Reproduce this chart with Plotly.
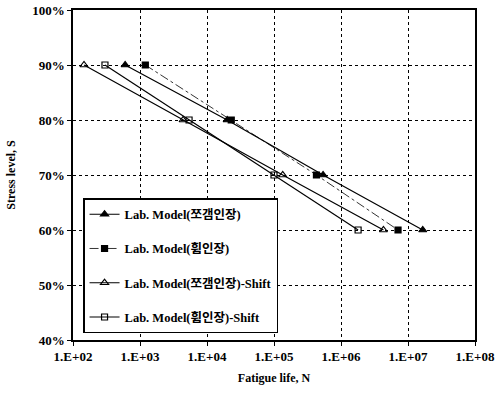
import plotly.graph_objects as go

stress = [0.90, 0.80, 0.70, 0.60]
life_split = [600, 20000, 540000, 16600000]
life_flex = [1200, 23000, 430000, 7100000]
life_split_shift = [146, 4400, 135000, 4300000]
life_flex_shift = [300, 5400, 100000, 1800000]

names = ["Lab. Model(쪼갬인장)", "Lab. Model(휨인장)",
         "Lab. Model(쪼갬인장)-Shift", "Lab. Model(휨인장)-Shift"]

x_ticks = [1e2, 1e3, 1e4, 1e5, 1e6, 1e7, 1e8]
x_ticktext = ["1.E+02", "1.E+03", "1.E+04", "1.E+05", "1.E+06", "1.E+07", "1.E+08"]
y_ticks = [0.4, 0.5, 0.6, 0.7, 0.8, 0.9, 1.0]
y_ticktext = ["40%", "50%", "60%", "70%", "80%", "90%", "100%"]

font_fam = "Liberation Serif, Noto Sans CJK KR"

fig = go.Figure()
series = [
    (life_split, "triangle-up", "solid", 1.2, 7),
    (life_flex, "square", "dashdot", 0.8, 6),
    (life_split_shift, "triangle-up-open", "solid", 1.2, 7),
    (life_flex_shift, "square-open", "solid", 1.2, 6),
]
for i, (lf, sym, dash, w, sz) in enumerate(series):
    fig.add_trace(go.Scatter(
        x=lf, y=stress, mode="lines+markers", name=names[i],
        legendgroup=f"g{i}",
        line=dict(color="black", dash=dash, width=w),
        marker=dict(symbol=sym, size=sz, color="black",
                    line=dict(color="black", width=1.2)),
    ))

fig.update_layout(
    width=503, height=393,
    margin=dict(l=73, r=28, t=10, b=53, autoexpand=False),
    paper_bgcolor="white", plot_bgcolor="white",
    font=dict(family=font_fam, size=12, color="black"),
    legend=dict(x=0.025, y=0.43, xanchor="left", yanchor="top",
                bgcolor="white", bordercolor="black", borderwidth=1.5,
                tracegroupgap=15, itemwidth=30,
                font=dict(family=font_fam, size=12.5, color="black", weight="bold")),
    showlegend=True,
)
fig.update_xaxes(
    type="log", range=[2, 8], tickvals=x_ticks, ticktext=x_ticktext,
    showgrid=True, gridcolor="black", griddash="dot", gridwidth=1,
    showline=True, linecolor="black", linewidth=1.5, mirror=True,
    ticks="outside", ticklen=4, tickcolor="black", automargin=False,
    ticklabeloverflow="allow",
    tickfont=dict(size=13, weight="bold", family=font_fam),
    title=dict(text="<b>Fatigue life, N</b>", font=dict(size=12, family=font_fam), standoff=10),
)
fig.update_yaxes(
    range=[0.4, 1.0], tickvals=y_ticks, ticktext=y_ticktext,
    showgrid=True, gridcolor="black", griddash="dot", gridwidth=1,
    showline=True, linecolor="black", linewidth=1.5, mirror=True,
    ticks="outside", ticklen=4, tickcolor="black", automargin=False,
    ticklabeloverflow="allow",
    tickfont=dict(size=13, weight="bold", family=font_fam),
    title=dict(text="<b>Stress level, S</b>", font=dict(size=12, family=font_fam), standoff=14),
)

fig.write_html("out.html", config={"displayModeBar": False},
               post_script="document.body.style.margin='0';document.body.style.overflow='hidden';")
